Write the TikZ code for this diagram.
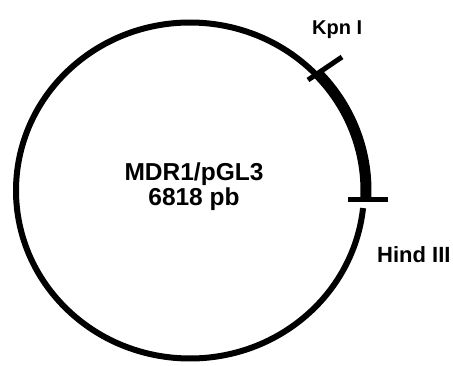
\documentclass[tikz,border=0pt]{standalone}
\usepackage{fontspec}
\setmainfont{Liberation Sans}
\begin{document}
\begin{tikzpicture}[x=1pt,y=1pt,
  lbl/.style={font=\bfseries, inner sep=0pt},
  backbone/.style={line width=6pt, black},
  insert/.style={line width=11pt, black},
  site/.style={line width=5pt, black}]
\useasboundingbox (0,0) rectangle (453,365);
\coordinate (c) at (190,174.5);
% plasmid backbone
\draw[backbone] (c) ++(44:174pt and 168pt)
  arc[start angle=44, end angle=354, x radius=174pt, y radius=168pt];
% insert (thick arc)
\draw[insert] (c) ++(44:176pt and 170pt)
  arc[start angle=44, end angle=-2.2, x radius=176pt, y radius=170pt];
% restriction sites
\coordinate (kpnin) at (308,285);
\coordinate (kpnout) at (342,308);
\coordinate (hindin) at (348,165.5);
\coordinate (hindout) at (388,165.5);
\draw[site] (kpnin) -- (kpnout);
\draw[site] (hindin) -- (hindout);
% labels
\node[lbl, anchor=base west, font=\fontsize{20}{24}\selectfont\bfseries] (kpn) at (312,330) {Kpn I};
\node[lbl, anchor=base west, font=\fontsize{22}{26}\selectfont\bfseries] (hind) at (377,103) {Hind III};
\node[lbl, anchor=base, font=\fontsize{24.5}{25}\selectfont\bfseries] (name) at (194,185) {MDR1/pGL3};
\node[lbl, anchor=base, font=\fontsize{24.5}{25}\selectfont\bfseries] (size) at (194,160) {6818 pb};
\end{tikzpicture}
\end{document}
